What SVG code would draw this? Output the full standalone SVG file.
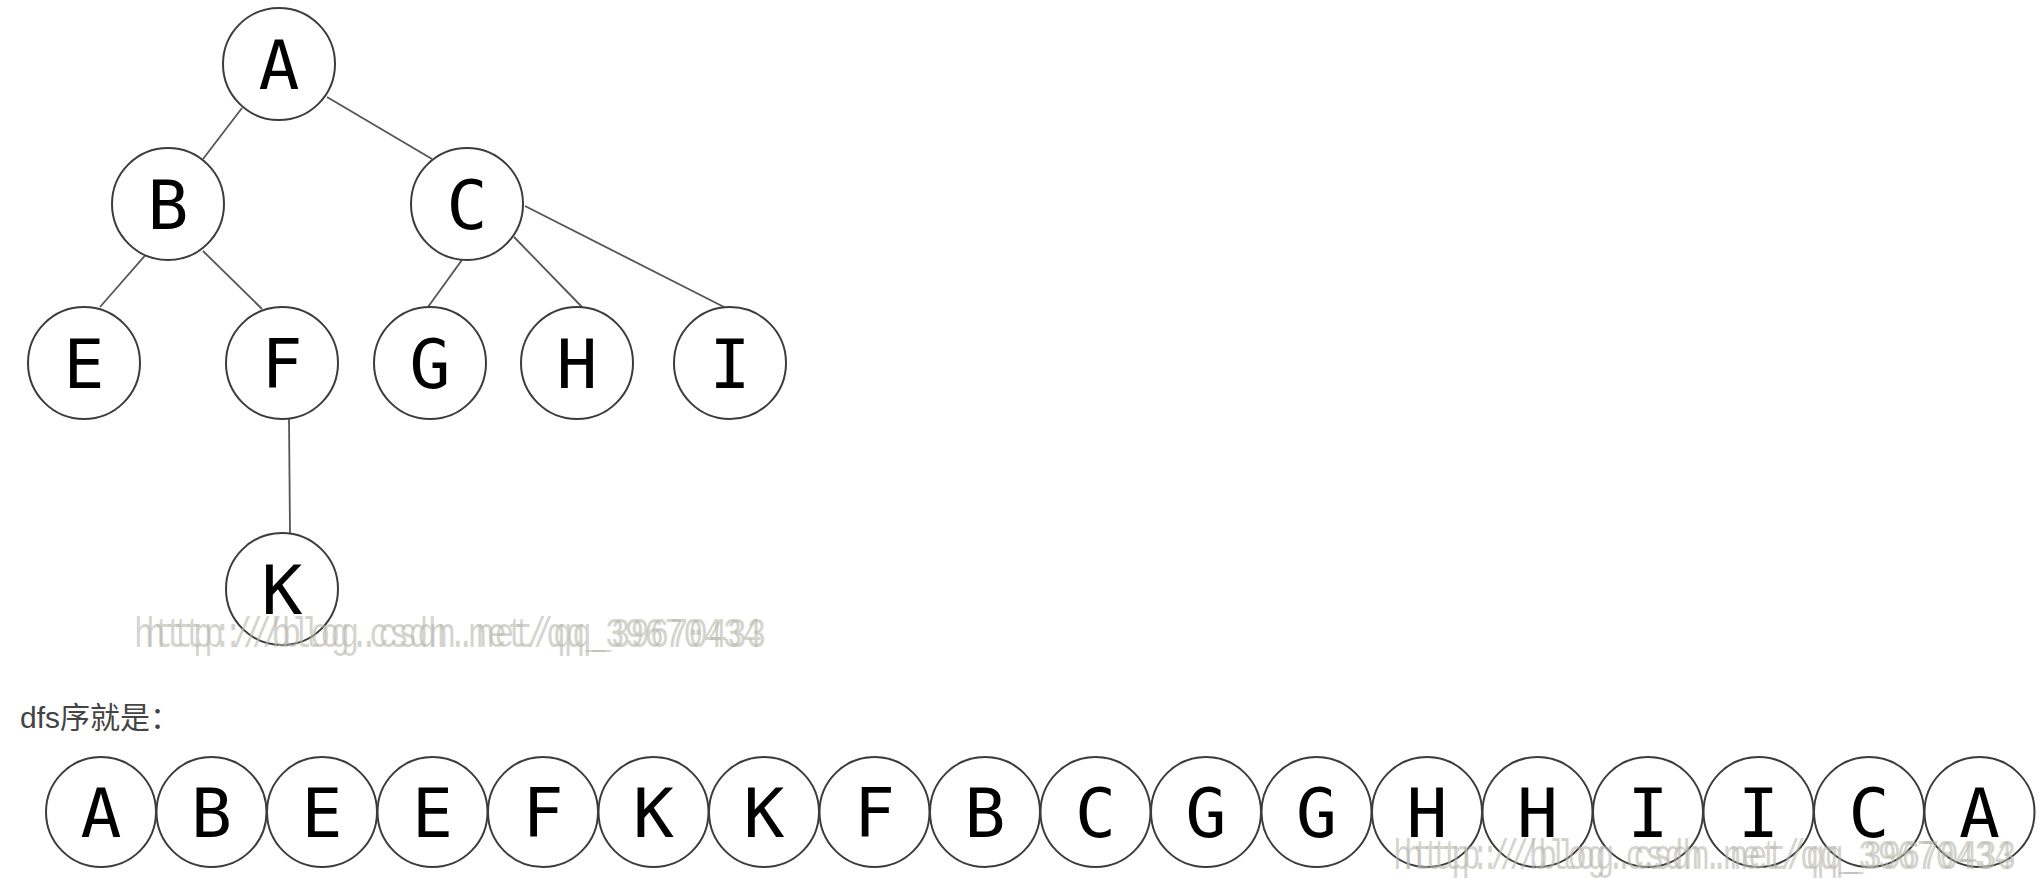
<svg xmlns="http://www.w3.org/2000/svg" width="2038" height="892" viewBox="0 0 2038 892">
<style>
.n circle{fill:#fff;stroke:#3c3c3c;stroke-width:2}
.n text{font-family:"DejaVu Sans Mono",monospace;font-size:68px;fill:#000;text-anchor:middle}
.e line{stroke:#555;stroke-width:1.8}
.wm{font-family:"Liberation Mono",monospace;font-size:43px;fill:#b8b8ae;fill-opacity:0.6}
.cap{font-family:"Liberation Sans","Noto Sans CJK SC",sans-serif;font-size:30px;fill:#444}
</style>
<rect width="2038" height="892" fill="#fff"/>
<g id="connectors" class="e">
<line x1="242" y1="108" x2="203" y2="159"/>
<line x1="327" y1="97" x2="432" y2="159"/>
<line x1="149" y1="251" x2="100" y2="307"/>
<line x1="203" y1="251" x2="262" y2="309"/>
<line x1="467" y1="253" x2="428" y2="307"/>
<line x1="514" y1="237" x2="582" y2="307"/>
<line x1="525" y1="206" x2="724" y2="307"/>
<line x1="289" y1="418" x2="290" y2="533"/>
</g>
<g id="A" class="n"><circle cx="279" cy="64" r="56"/><text x="279" y="89">A</text></g>
<g id="B" class="n"><circle cx="168" cy="204" r="56"/><text x="168" y="229">B</text></g>
<g id="C" class="n"><circle cx="467" cy="204" r="56"/><text x="467" y="229">C</text></g>
<g id="E" class="n"><circle cx="84" cy="363" r="56"/><text x="84" y="388">E</text></g>
<g id="F" class="n"><circle cx="282" cy="363" r="56"/><text x="282" y="388">F</text></g>
<g id="G" class="n"><circle cx="430" cy="363" r="56"/><text x="430" y="388">G</text></g>
<g id="H" class="n"><circle cx="577" cy="363" r="56"/><text x="577" y="388">H</text></g>
<g id="I" class="n"><circle cx="730" cy="363" r="56"/><text x="730" y="388">I</text></g>
<g id="K" class="n"><circle cx="282" cy="589" r="56"/><text x="282" y="614">K</text></g>
<text class="cap" x="20" y="728">dfs序就是：</text>
<g id="seq">
<g id="s1" class="n"><circle cx="101" cy="812" r="55"/><text x="101" y="837">A</text></g>
<g id="s2" class="n"><circle cx="211.5" cy="812" r="55"/><text x="211.5" y="837">B</text></g>
<g id="s3" class="n"><circle cx="322" cy="812" r="55"/><text x="322" y="837">E</text></g>
<g id="s4" class="n"><circle cx="432.5" cy="812" r="55"/><text x="432.5" y="837">E</text></g>
<g id="s5" class="n"><circle cx="543" cy="812" r="55"/><text x="543" y="837">F</text></g>
<g id="s6" class="n"><circle cx="653.5" cy="812" r="55"/><text x="653.5" y="837">K</text></g>
<g id="s7" class="n"><circle cx="764" cy="812" r="55"/><text x="764" y="837">K</text></g>
<g id="s8" class="n"><circle cx="874.5" cy="812" r="55"/><text x="874.5" y="837">F</text></g>
<g id="s9" class="n"><circle cx="985" cy="812" r="55"/><text x="985" y="837">B</text></g>
<g id="s10" class="n"><circle cx="1095.5" cy="812" r="55"/><text x="1095.5" y="837">C</text></g>
<g id="s11" class="n"><circle cx="1206" cy="812" r="55"/><text x="1206" y="837">G</text></g>
<g id="s12" class="n"><circle cx="1316.5" cy="812" r="55"/><text x="1316.5" y="837">G</text></g>
<g id="s13" class="n"><circle cx="1427" cy="812" r="55"/><text x="1427" y="837">H</text></g>
<g id="s14" class="n"><circle cx="1537.5" cy="812" r="55"/><text x="1537.5" y="837">H</text></g>
<g id="s15" class="n"><circle cx="1648" cy="812" r="55"/><text x="1648" y="837">I</text></g>
<g id="s16" class="n"><circle cx="1758.5" cy="812" r="55"/><text x="1758.5" y="837">I</text></g>
<g id="s17" class="n"><circle cx="1869" cy="812" r="55"/><text x="1869" y="837">C</text></g>
<g id="s18" class="n"><circle cx="1979.5" cy="812" r="55"/><text x="1979.5" y="837">A</text></g>
</g>
<g id="watermarks">
<text class="wm" x="134" y="647" textLength="628" lengthAdjust="spacingAndGlyphs">http://blog.csdn.net/qq_39670434</text>
<text class="wm" x="146" y="647" textLength="620" lengthAdjust="spacingAndGlyphs">http://blog.csdn.net/qq_39670433</text>
<text class="wm" x="1393" y="869" textLength="620" lengthAdjust="spacingAndGlyphs">http://blog.csdn.net/qq_39670434</text>
<text class="wm" x="1404" y="869" textLength="612" lengthAdjust="spacingAndGlyphs">http://blog.csdn.net/qq_39670433</text>
</g>
</svg>
